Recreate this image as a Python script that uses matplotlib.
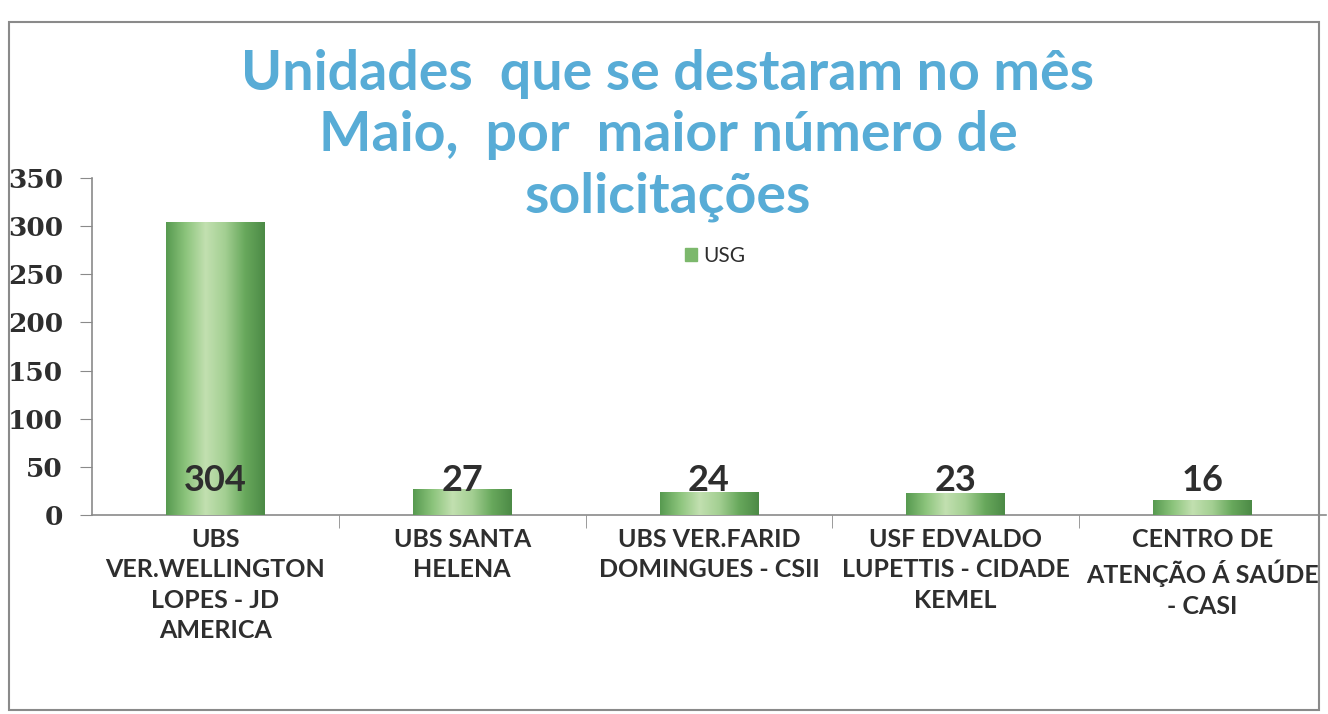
import matplotlib.pyplot as plt
import numpy as np
from matplotlib.colors import LinearSegmentedColormap
from matplotlib.patches import Rectangle


categories = [
    "UBS\nVER.WELLINGTON\nLOPES - JD\nAMERICA",
    "UBS SANTA\nHELENA",
    "UBS VER.FARID\nDOMINGUES - CSII",
    "USF EDVALDO\nLUPETTIS - CIDADE\nKEMEL",
    "CENTRO DE\nATENÇÃO Á SAÚDE\n- CASI",
]
values = [304, 27, 24, 23, 16]
series_name = "USG"
title = "Unidades  que se destaram no mês\nMaio,  por  maior número de\nsolicitações"
y_ticks = [0, 50, 100, 150, 200, 250, 300, 350]

plt.rcParams['font.family'] = ['Lato', 'DejaVu Sans']

TEXT = '#2e2e2e'
AXIS = '#8a8a8a'
green_cmap = LinearSegmentedColormap.from_list(
    'cyl', ['#579a50', '#8cc47c', '#c2e0b0', '#a3cf92', '#68a85c', '#4c8a46'])

fig = plt.figure(figsize=(13.28, 7.14), dpi=100)
ax = fig.add_axes([0.0693, 0.2787, 0.929, 0.472])

x = np.arange(len(values))
bars = ax.bar(x, values, width=0.4, color='#7cb86c', zorder=2)

# cylinder-like shading on each bar
grad = np.linspace(0, 1, 256).reshape(1, -1)
for b in bars:
    x0, y0 = b.get_x(), b.get_y()
    im = ax.imshow(grad, cmap=green_cmap, aspect='auto', zorder=3,
                   extent=[x0, x0 + b.get_width(), y0, y0 + b.get_height()])
    im.set_clip_path(b)

for xi, v in zip(x, values):
    ax.text(xi, 19, str(v), ha='center', va='bottom', fontsize=26,
            fontweight='bold', color=TEXT, zorder=4)

ax.set_xlim(-0.5, len(values) - 0.5)
ax.set_ylim(0, 350)
ax.set_yticks(y_ticks)
ax.set_yticklabels([str(t) for t in y_ticks], family='DejaVu Serif',
                   fontweight='bold', fontsize=19, color=TEXT)
ax.set_xticks(x)
ax.set_xticklabels(categories, fontsize=18, fontweight='bold', color=TEXT,
                   linespacing=1.4)
ax.set_xticks(np.arange(0.5, len(values) - 0.5), minor=True)
ax.tick_params(axis='x', which='major', length=0, pad=9)
ax.tick_params(axis='x', which='minor', length=9, color=AXIS, direction='out')
ax.tick_params(axis='y', length=9, color=AXIS, pad=12)

for s in ['top', 'right']:
    ax.spines[s].set_visible(False)
for s in ['left', 'bottom']:
    ax.spines[s].set_color(AXIS)
    ax.spines[s].set_linewidth(1.2)
ax.set_xlim(-0.5, len(values) - 0.5)

ax.legend([Rectangle((0, 0), 1, 1, color='#7cb86c')], [series_name],
          loc='center', bbox_to_anchor=(0.505, 0.77), frameon=False,
          fontsize=15, handlelength=0.6, handleheight=0.6, handletextpad=0.3,
          labelcolor=TEXT)

fig.text(0.503, 0.932, title, ha='center', va='top', fontsize=40,
         fontweight='bold', color='#58acd6', linespacing=1.28)

fig.patches.append(Rectangle((0.007, 0.006), 0.986, 0.963, transform=fig.transFigure,
                             fill=False, edgecolor='#8a8a8a', linewidth=1.5))

fig.savefig('out.png', dpi=100)
